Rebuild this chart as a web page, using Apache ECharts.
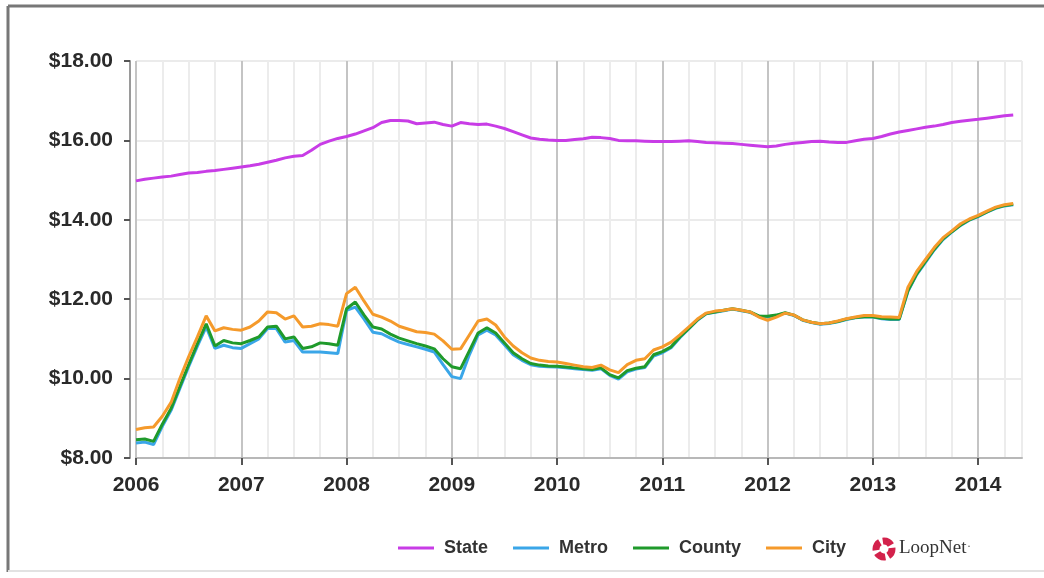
<!DOCTYPE html>
<html>
<head>
<meta charset="utf-8">
<script src="https://cdn.jsdelivr.net/npm/echarts@6/dist/echarts.min.js"></script>
<style>
html,body{margin:0;padding:0;background:#fff;}
#chart{width:1044px;height:578px;}
</style>
</head>
<body>
<div id="chart"></div>
<script>
// Monthly observations, Jan 2006 .. May 2014 (101 months); axis extends to Jun 2014
var startYear = 2006;
var monthCount = 102;
var categories = [];
for (var i = 0; i < monthCount; i++) {
  var y = startYear + Math.floor(i / 12);
  var m = (i % 12) + 1;
  categories.push(y + '-' + (m < 10 ? '0' + m : m));
}
var seriesNames = ['State', 'Metro', 'County', 'City'];
var yTicks = { min: 8, max: 18, step: 2 };

var stateValues = [
  14.98,15.02,15.05,15.08,15.10,15.14,15.18,15.19,15.22,15.24,15.27,15.30,
  15.33,15.36,15.40,15.45,15.50,15.56,15.60,15.62,15.75,15.90,15.98,16.05,
  16.10,16.16,16.24,16.32,16.45,16.50,16.50,16.49,16.42,16.44,16.46,16.40,
  16.36,16.45,16.42,16.40,16.41,16.36,16.30,16.22,16.14,16.06,16.03,16.01,
  16.00,16.00,16.02,16.04,16.08,16.07,16.05,16.00,15.99,15.99,15.98,15.97,
  15.97,15.97,15.98,15.99,15.97,15.95,15.94,15.93,15.92,15.90,15.88,15.86,
  15.84,15.86,15.90,15.93,15.95,15.97,15.98,15.96,15.95,15.95,15.99,16.03,
  16.05,16.10,16.16,16.21,16.25,16.29,16.33,16.36,16.40,16.45,16.48,16.51,
  16.53,16.56,16.59,16.62,16.64
];
var metroValues = [
  8.38,8.40,8.34,8.80,9.20,9.75,10.30,10.82,11.30,10.76,10.84,10.78,
  10.76,10.88,11.00,11.26,11.26,10.92,10.96,10.67,10.67,10.67,10.65,10.63,
  11.72,11.80,11.50,11.17,11.13,11.02,10.92,10.86,10.80,10.74,10.67,10.35,
  10.05,10.00,10.60,11.10,11.22,11.10,10.85,10.60,10.46,10.35,10.31,10.30,
  10.29,10.27,10.25,10.23,10.21,10.25,10.08,9.99,10.17,10.24,10.28,10.57,
  10.65,10.78,11.03,11.25,11.47,11.63,11.67,11.71,11.75,11.71,11.67,11.57,
  11.56,11.59,11.65,11.59,11.47,11.41,11.37,11.39,11.43,11.49,11.53,11.55,
  11.55,11.51,11.49,11.49,12.20,12.62,12.93,13.24,13.50,13.69,13.86,13.99,
  14.08,14.19,14.29,14.35,14.38
];
var countyValues = [
  8.46,8.48,8.42,8.85,9.25,9.80,10.35,10.88,11.38,10.82,10.96,10.90,
  10.88,10.96,11.05,11.30,11.32,11.00,11.05,10.76,10.80,10.90,10.88,10.84,
  11.76,11.93,11.60,11.30,11.25,11.12,11.02,10.95,10.88,10.82,10.75,10.50,
  10.30,10.25,10.70,11.15,11.28,11.15,10.90,10.65,10.50,10.38,10.34,10.32,
  10.31,10.29,10.27,10.25,10.23,10.27,10.10,10.02,10.20,10.26,10.30,10.60,
  10.68,10.80,11.05,11.26,11.48,11.64,11.68,11.72,11.76,11.72,11.68,11.58,
  11.57,11.60,11.66,11.60,11.48,11.42,11.38,11.40,11.44,11.50,11.54,11.56,
  11.56,11.52,11.50,11.50,12.22,12.64,12.95,13.26,13.52,13.70,13.87,14.00,
  14.09,14.20,14.30,14.36,14.39
];
var cityValues = [
  8.72,8.76,8.78,9.05,9.40,10.00,10.55,11.05,11.58,11.20,11.28,11.24,
  11.22,11.30,11.45,11.68,11.66,11.50,11.58,11.30,11.32,11.38,11.36,11.32,
  12.14,12.30,11.95,11.62,11.55,11.45,11.32,11.25,11.18,11.16,11.12,10.95,
  10.74,10.75,11.10,11.45,11.50,11.35,11.05,10.82,10.65,10.52,10.46,10.43,
  10.42,10.38,10.34,10.30,10.28,10.34,10.22,10.15,10.35,10.46,10.50,10.72,
  10.80,10.92,11.10,11.30,11.50,11.65,11.70,11.72,11.76,11.72,11.68,11.55,
  11.47,11.55,11.65,11.60,11.48,11.42,11.38,11.40,11.45,11.51,11.55,11.59,
  11.59,11.56,11.55,11.54,12.30,12.70,13.00,13.30,13.55,13.72,13.90,14.02,
  14.11,14.22,14.32,14.38,14.41
];
var seriesValues = [stateValues, metroValues, countyValues, cityValues];
var seriesColors = ['#c83ce6', '#3aa6e8', '#1f9a2b', '#f59a2b'];

var chart = echarts.init(document.getElementById('chart'), null, {renderer: 'canvas'});
var series = seriesNames.map(function (n, k) {
  return {
    name: n, type: 'line', data: seriesValues[k],
    showSymbol: false, symbol: 'none', smooth: false,
    lineStyle: { color: seriesColors[k], width: 3 },
    itemStyle: { color: seriesColors[k] },
    z: 2 + k
  };
});

chart.setOption({
  animation: false,
  backgroundColor: '#fff',
  grid: { left: 136, right: 22, top: 61, bottom: 120, containLabel: false },
  xAxis: {
    type: 'category', data: categories, boundaryGap: false,
    axisLine: { show: true, lineStyle: { color: '#b8b8b8', width: 2 } },
    axisTick: { show: true, interval: 11, length: 7, lineStyle: { color: '#555', width: 2 } },
    axisLabel: {
      interval: 11, margin: 17, fontSize: 21, fontWeight: 'bold', color: '#2a2a2a',
      fontFamily: 'Liberation Sans, Arial, sans-serif',
      formatter: function (v) { return v.slice(0, 4); }
    },
    splitLine: {
      show: true,
      interval: function (idx) { return idx % 3 === 0 || idx === monthCount - 1; },
      lineStyle: { color: ['#c4c4c4', '#ececec', '#ececec', '#ececec'], width: 2 }
    }
  },
  yAxis: {
    type: 'value', min: yTicks.min, max: yTicks.max, interval: yTicks.step, offset: 6,
    axisLine: { show: true, lineStyle: { color: '#9a9a9a', width: 2 } },
    axisTick: { show: true, length: 6, lineStyle: { color: '#555', width: 2 } },
    axisLabel: {
      margin: 17, fontSize: 21, fontWeight: 'bold', color: '#2a2a2a',
      fontFamily: 'Liberation Sans, Arial, sans-serif',
      formatter: function (v) { return '$' + v.toFixed(2); }
    },
    splitLine: { show: true, lineStyle: { color: '#ebebeb', width: 2 } }
  },
  legend: {
    data: seriesNames, left: 398, top: 539, padding: 0,
    icon: 'rect', itemWidth: 36, itemHeight: 3, itemGap: 25,
    textStyle: { fontSize: 18, fontWeight: 'bold', color: '#333',
      fontFamily: 'Liberation Sans, Arial, sans-serif', padding: [0, 0, 0, 5] }
  },
  graphic: [
    { type: 'line', shape: { x1: 8, y1: 6, x2: 1044, y2: 6 }, style: { stroke: '#777', lineWidth: 3 } },
    { type: 'line', shape: { x1: 8, y1: 6, x2: 8, y2: 572 }, style: { stroke: '#777', lineWidth: 3 } },
    { type: 'line', shape: { x1: 8, y1: 571, x2: 1044, y2: 571 }, style: { stroke: '#e2e2e2', lineWidth: 2 } },
    { type: 'circle', shape: { cx: 884, cy: 549, r: 8 },
      style: { fill: 'none', stroke: '#d3214b', lineWidth: 7, lineDash: [9.5, 3.07], lineDashOffset: 1.5 } },
    { type: 'text', left: 899, top: 539,
      style: { text: 'LoopNet', fontSize: 19, fontFamily: 'Liberation Serif, DejaVu Serif, serif', fill: '#333' } },
    { type: 'text', left: 967, top: 541,
      style: { text: '·', fontSize: 12, fontFamily: 'Liberation Serif, serif', fill: '#555' } }
  ],
  series: series
});
</script>
</body>
</html>
